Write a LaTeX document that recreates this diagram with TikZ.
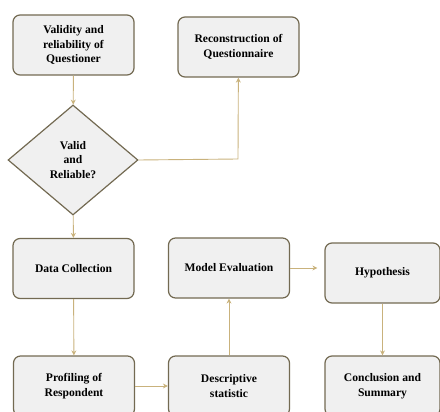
\documentclass[tikz,border=0pt]{standalone}
\usepackage{fontspec}
\setmainfont{Liberation Serif}
\usetikzlibrary{arrows.meta, shapes.geometric}
\definecolor{cfill}{HTML}{F0F0F0}
\definecolor{cline}{HTML}{736A52}
\definecolor{carrow}{HTML}{C9B27C}
\tikzset{
  every picture/.style={font=\bfseries\fontsize{11.6}{14.5}\selectfont},
  box/.style={draw=cline, fill=cfill, rounded corners=7pt, align=center, line width=1.2pt, minimum width=121pt, minimum height=60pt, inner sep=2pt},
  decision/.style={draw=cline, fill=cfill, diamond, aspect=1.18, align=center, line width=1.2pt, minimum width=130pt, minimum height=110pt, inner sep=0pt},
  arrow/.style={-{Stealth[length=5pt, width=5pt]}, draw=carrow, line width=0.9pt},
}
\begin{document}
\begin{tikzpicture}[x=1pt, y=-1pt]
  \useasboundingbox (0, 0) rectangle (440, 412);
  \clip (0, 0) rectangle (440, 412);
  \node[box] (valid) at (73.5, 45) {Validity and\\reliability of\\Questioner};
  \node[box] (recon) at (238.5, 47) {Reconstruction of\\Questionnaire};
  \node[decision] (check) at (73, 160) {Valid\\and\\Reliable?};
  \node[box] (collect) at (73.5, 268.5) {Data Collection};
  \node[box] (profile) at (74, 386) {Profiling of\\Respondent};
  \node[box] (descr) at (229, 386) {Descriptive\\statistic};
  \node[box] (model) at (229, 268) {Model Evaluation};
  \node[box, minimum width=115pt] (hypo) at (382.5, 273) {Hypothesis};
  \node[box, minimum width=115pt] (concl) at (382.5, 386) {Conclusion and\\Summary};
  \coordinate (bend) at (238, 159);
  \draw[arrow] (valid) -- (check);
  \draw[arrow] (check.east) -- (bend) -- (recon);
  \draw[arrow] (check) -- (collect);
  \draw[arrow] (collect) -- (profile);
  \draw[arrow] (profile) -- (descr);
  \draw[arrow] (descr) -- (model);
  \draw[arrow, shorten >=7pt] (model) -- (hypo.west |- model.east);
  \draw[arrow] (hypo) -- (concl);
\end{tikzpicture}
\end{document}
